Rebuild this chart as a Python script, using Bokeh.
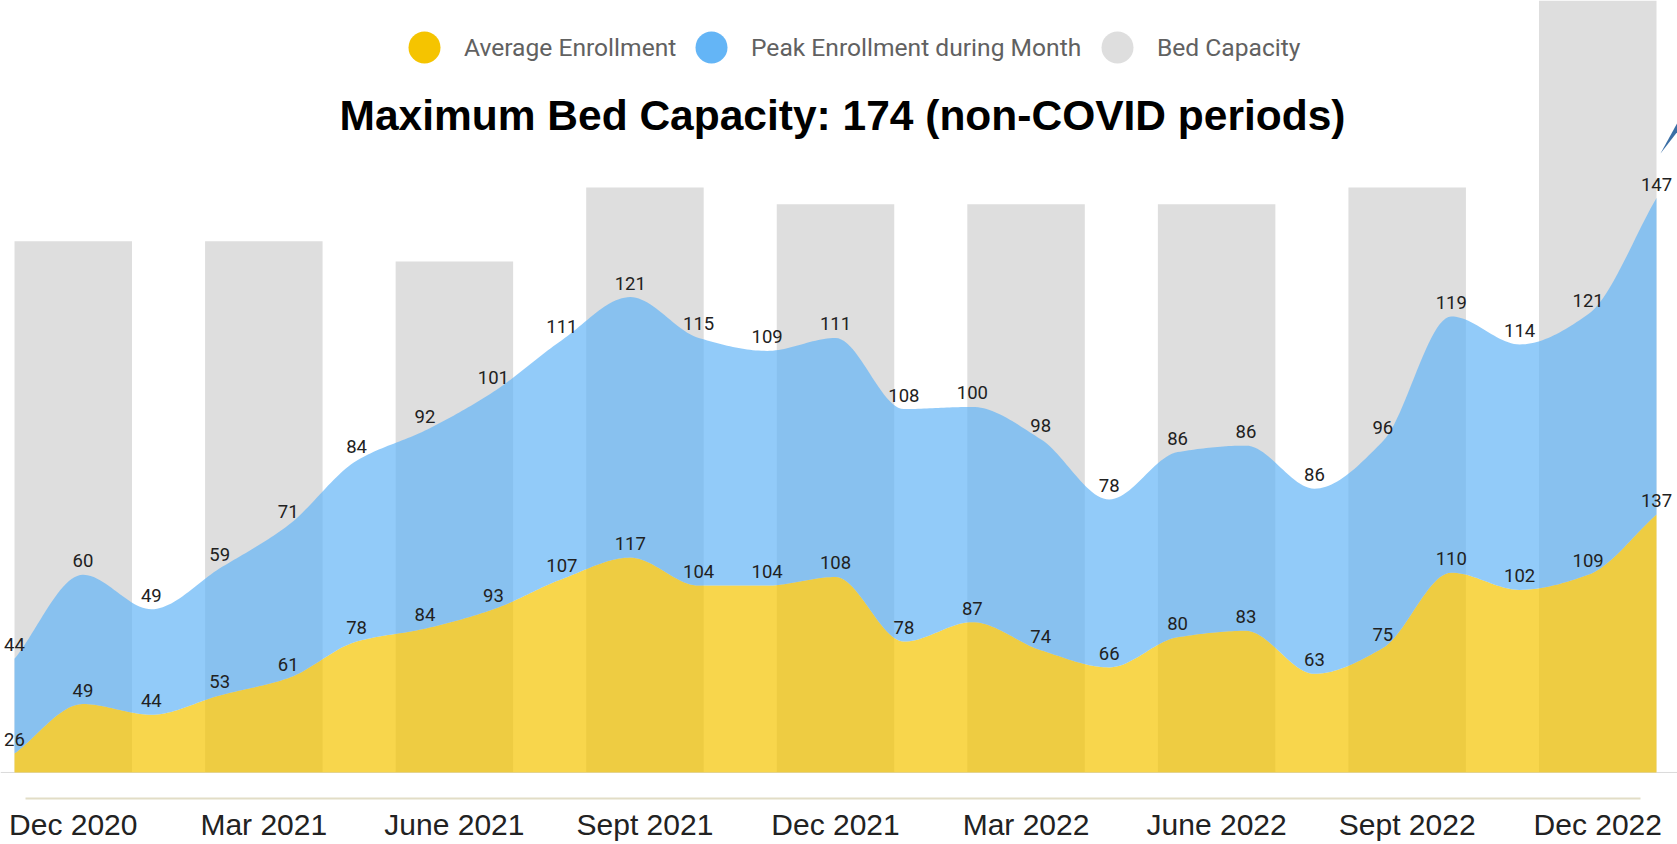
import numpy as np
from bokeh.plotting import figure
from bokeh.models import (Range1d, LinearAxis, FixedTicker, Legend, LegendItem,
                          Label, Span, PolyAnnotation, ColumnDataSource)
from bokeh.core.properties import value
from bokeh.embed import file_html
from bokeh.resources import INLINE

# ---------------- data ----------------
months = ["Dec 2020", "Jan 2021", "Feb 2021", "Mar 2021", "Apr 2021", "May 2021",
          "Jun 2021", "Jul 2021", "Aug 2021", "Sep 2021", "Oct 2021", "Nov 2021",
          "Dec 2021", "Jan 2022", "Feb 2022", "Mar 2022", "Apr 2022", "May 2022",
          "Jun 2022", "Jul 2022", "Aug 2022", "Sep 2022", "Oct 2022", "Nov 2022",
          "Dec 2022"]
avg_enrollment = [26, 49, 44, 53, 61, 78, 84, 93, 107, 117, 104, 104, 108,
                  78, 87, 74, 66, 80, 83, 63, 75, 110, 102, 109, 137]
peak_enrollment = [44, 60, 49, 59, 71, 84, 92, 101, 111, 121, 115, 109, 111,
                   108, 100, 98, 78, 86, 86, 86, 96, 119, 114, 121, 147]
quarters = ["Dec 2020", "Mar 2021", "June 2021", "Sept 2021", "Dec 2021",
            "Mar 2022", "June 2022", "Sept 2022", "Dec 2022"]
bed_capacity = [158, 158, 152, 174, 169, 169, 169, 174, 240]
series_names = ["Average Enrollment", "Peak Enrollment during Month", "Bed Capacity"]

AXIS_MIN = 17.2   # lowest value of the enrollment axis in the source chart

YELLOW = "#F5C400"
BLUE = "#64B5F6"
GREY = "#DEDEDE"


def monotone_curve(xs, ys, n=24):
    """Monotone cubic (Fritsch-Carlson) path through the points, for a smooth outline."""
    x = np.asarray(xs, float)
    y = np.asarray(ys, float)
    h = np.diff(x)
    d = np.diff(y) / h
    m = np.zeros_like(y)
    m[0], m[-1] = d[0], d[-1]
    for i in range(1, len(y) - 1):
        if d[i - 1] * d[i] <= 0:
            m[i] = 0.0
        else:
            w1 = 2 * h[i] + h[i - 1]
            w2 = h[i] + 2 * h[i - 1]
            m[i] = (w1 + w2) / (w1 / d[i - 1] + w2 / d[i])
    xo, yo = [], []
    for i in range(len(y) - 1):
        t = np.linspace(0, 1, n, endpoint=(i == len(y) - 2))
        h00 = 2 * t**3 - 3 * t**2 + 1
        h10 = t**3 - 2 * t**2 + t
        h01 = -2 * t**3 + 3 * t**2
        h11 = t**3 - t**2
        xo.extend(x[i] + t * h[i])
        yo.extend(h00 * y[i] + h10 * h[i] * m[i] + h01 * y[i + 1] + h11 * h[i] * m[i + 1])
    return np.array(xo), np.array(yo)


idx = list(range(len(months)))
stack_top = [a + b for a, b in zip(avg_enrollment, peak_enrollment)]
sx, s_avg = monotone_curve(idx, avg_enrollment)
_, s_top = monotone_curve(idx, stack_top)

# ---------------- figure ----------------
p = figure(frame_width=1677, frame_height=798,
           x_range=Range1d(-0.2046, 24.307), y_range=Range1d(5.109, 375.75),
           output_backend="svg", toolbar_location=None,
           x_axis_location=None, y_axis_location=None,
           min_border=0, outline_line_color=None,
           background_fill_color="white", border_fill_color="white")
p.grid.visible = False
p.extra_x_ranges = {"q": Range1d(-0.3818, 8.4185)}
p.extra_y_ranges = {"cap": Range1d(-7.733, 229.6)}

# bed capacity bars
qx = list(range(len(quarters)))
p.vbar(x=qx, top=bed_capacity, bottom=0, width=0.6166,
       x_range_name="q", y_range_name="cap",
       fill_color=GREY, line_color=None)

p.add_layout(Span(location=AXIS_MIN, dimension="width", line_color="#DADADA",
                  line_width=1, level="underlay"))

# stacked smooth areas
p.varea(x=sx, y1=AXIS_MIN, y2=s_avg, fill_color=YELLOW, fill_alpha=0.7)
p.varea(x=sx, y1=s_avg, y2=s_top, fill_color=BLUE, fill_alpha=0.7)

# data labels
lab_avg = ColumnDataSource(dict(x=idx, y=avg_enrollment, t=[str(v) for v in avg_enrollment]))
lab_top = ColumnDataSource(dict(x=idx, y=stack_top, t=[str(v) for v in peak_enrollment]))
for src in (lab_avg, lab_top):
    p.text(x="x", y="y", text="t", source=src, text_align="center",
           text_baseline="alphabetic", y_offset=-14,
           text_font=value("Roboto"), text_font_size="18.5px", text_color="#212121")

# x axis with quarter labels
xaxis = LinearAxis(x_range_name="q", ticker=FixedTicker(ticks=qx),
                   major_label_overrides={i: q for i, q in enumerate(quarters)},
                   bounds=(-0.2506, 8.2245),
                   axis_line_color="#E2DDC6", axis_line_width=2,
                   major_tick_line_color=None, minor_tick_line_color=None,
                   major_tick_out=0, major_tick_in=0,
                   major_label_text_font="Liberation Sans",
                   major_label_text_font_size="30px",
                   major_label_text_color="#222222",
                   major_label_standoff=9)
p.add_layout(xaxis, "below")

# legend: one single-item legend per series, placed along the top
legend_colors = [YELLOW, BLUE, GREY]
legend_x = [384, 671, 1077]
for name, col, lx in zip(series_names, legend_colors, legend_x):
    r = p.scatter(x=[np.nan], y=[np.nan], marker="circle", fill_color=col, line_color=None)
    p.add_layout(Legend(items=[LegendItem(label=name, renderers=[r])],
                        orientation="horizontal", location=(lx, 711),
                        glyph_width=80, glyph_height=80, label_standoff=-3,
                        padding=0, margin=0, border_line_color=None,
                        background_fill_alpha=0,
                        label_text_font="Roboto", label_text_font_size="24.6px",
                        label_text_color="#616161"))

# title inside the plot
p.add_layout(Label(x=842, y=683, x_units="screen", y_units="screen",
                   text="Maximum Bed Capacity: 174 (non-COVID periods)",
                   text_align="center", text_baseline="alphabetic",
                   text_font="Liberation Sans", text_font_style="bold",
                   text_font_size="42.5px", text_color="black"))

# tail of an annotation arrow at the top right
p.add_layout(PolyAnnotation(xs=[1660, 1677, 1677], ys=[645, 676, 667],
                            xs_units="screen", ys_units="screen",
                            fill_color="#3A6EA5", fill_alpha=1.0, line_color=None))

open("out.html", "w").write(file_html(p, INLINE))
